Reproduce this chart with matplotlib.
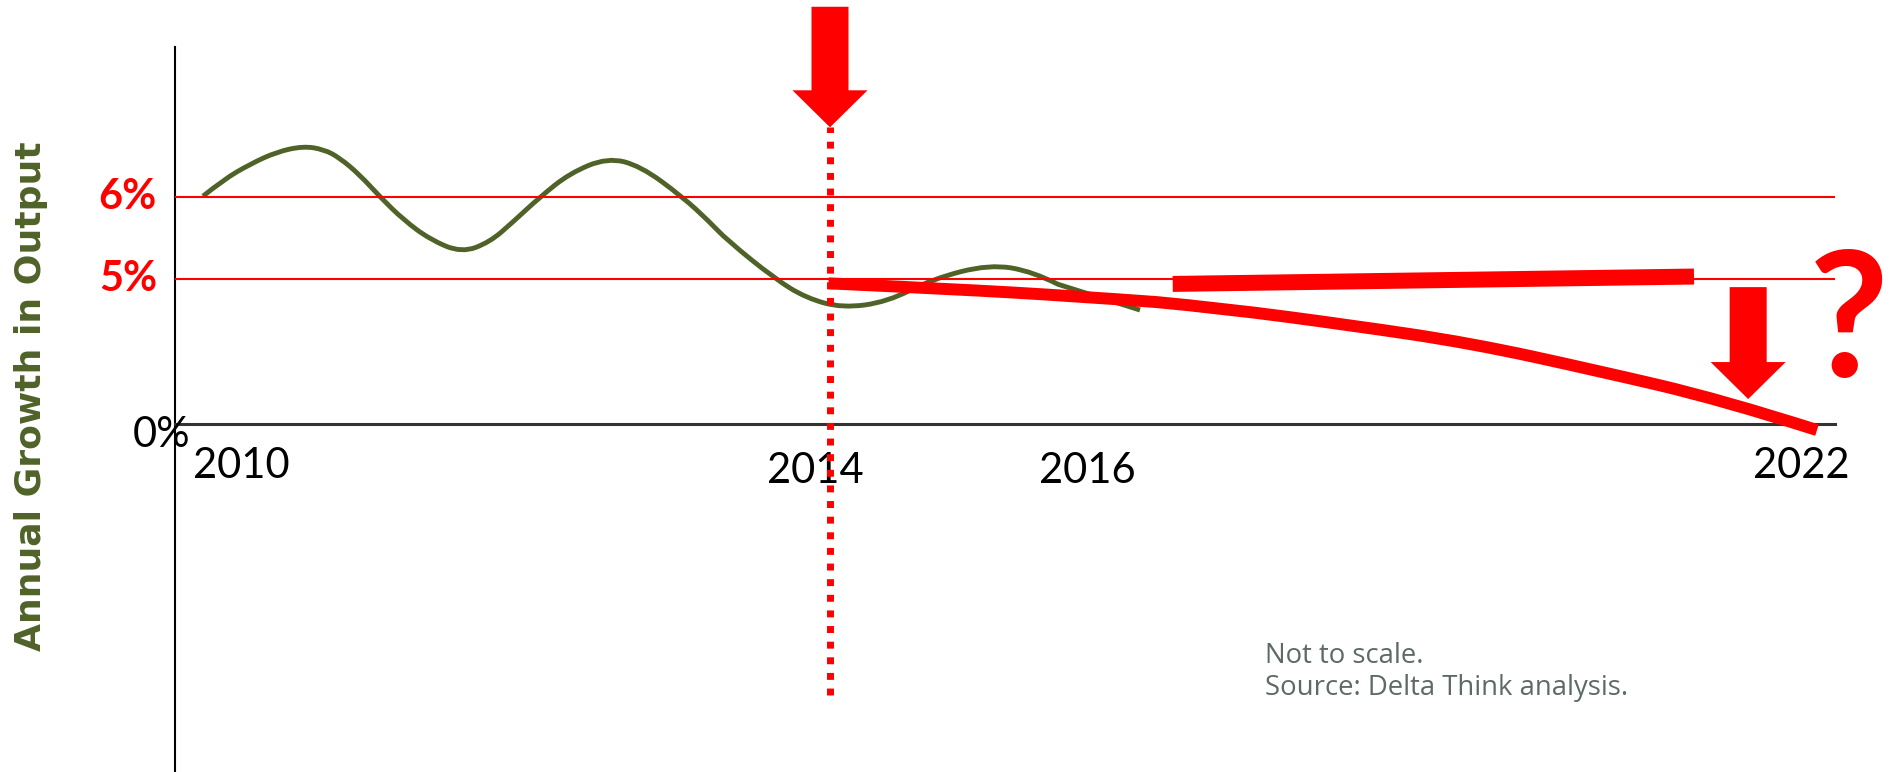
# Sketch: annual growth in output, 2010-2022 (not to scale)

import numpy as np
import matplotlib
matplotlib.use("Agg")
import matplotlib.pyplot as plt
from matplotlib.path import Path
from matplotlib.patches import PathPatch

# --- data (years, percent) ---
green_years = [2010.00, 2010.13, 2010.30, 2010.47, 2010.64, 2010.77, 2010.87, 2011.00,
               2011.13, 2011.28, 2011.45, 2011.65, 2011.83, 2011.98, 2012.15, 2012.34,
               2012.58, 2012.79, 2013.06, 2013.23, 2013.34, 2013.65, 2013.85, 2014.08,
               2014.37, 2014.66, 2015.03, 2015.31, 2015.63, 2016.00]
green_pct = [6.01, 6.21, 6.40, 6.55, 6.62, 6.58, 6.48, 6.27,
             6.00, 5.72, 5.48, 5.32, 5.45, 5.70, 6.00, 6.29,
             6.48, 6.38, 6.00, 5.70, 5.48, 5.00, 4.34, 4.00,
             4.21, 5.00, 5.18, 5.09, 4.55, 3.93]

decline_years = [2013.99, 2014.77, 2015.58, 2016.71, 2017.86, 2018.93, 2020.03, 2021.16, 2022.00]
decline_pct = [4.85, 4.66, 4.41, 4.00, 3.41, 2.79, 1.86, 0.83, -0.21]

flat_years = [2016.29, 2020.91]
flat_pct = [4.83, 5.03]

ref_levels = [6, 5]
ref_labels = ["6%", "5%"]
tick_years = [2010, 2014, 2016, 2022]
tick_labels = ["2010", "2014", "2016", "2022"]

event_year = 2014          # dotted marker
event_span = (-9.34, 6.85)
top_arrow = (8.32, 6.85)   # tail, tip (percent)
drop_arrow_year = 2021.39
drop_arrow = (4.72, 0.86)

RED = "#FF0000"
GREEN = "#4F6228"

# --- "not to scale" axes: piecewise linear mapping ---
yr_knots = [2000, 2010, 2014, 2016, 2022, 2030]
x_pix = [203 - 10 * 156.75, 203, 830, 1140, 1817, 1817 + 8 * 112.83]
pct_knots = [-30, 0, 5, 6, 20]
y_pix = [772 - (424 + 30 * 29), 772 - 424, 772 - 279, 772 - 197, 772 - (197 - 14 * 82)]

def fx(v): return np.interp(v, yr_knots, x_pix)
def ix(v): return np.interp(v, x_pix, yr_knots)
def fy(v): return np.interp(v, pct_knots, y_pix)
def iy(v): return np.interp(v, y_pix, pct_knots)


def smooth_path(xs, ys):
    # quadratic bezier through the midpoints, the read points act as control points
    pts = np.column_stack([xs, ys])
    verts = [pts[0]]
    codes = [Path.MOVETO]
    for i in range(1, len(pts) - 1):
        nxt = pts[i + 1] if i == len(pts) - 2 else (pts[i] + pts[i + 1]) / 2
        verts += [pts[i], nxt]
        codes += [Path.CURVE3, Path.CURVE3]
    return Path(verts, codes)


fig = plt.figure(figsize=(18.91, 7.72), dpi=100)
ax = fig.add_axes([175 / 1891, 0, 1660 / 1891, 725 / 772])
ax.set_xscale("function", functions=(fx, ix))
ax.set_yscale("function", functions=(fy, iy))
ax.set_xlim(ix(175), ix(1835))
ax.set_ylim(iy(0), iy(725))
ax.set_xticks([])
ax.set_yticks([])
ax.spines[["top", "right"]].set_visible(False)
ax.spines["left"].set_linewidth(1.5)
ax.spines["bottom"].set_position(("data", 0))
ax.spines["bottom"].set_color("#333333")
ax.spines["bottom"].set_linewidth(2.2)

for lv in ref_levels:
    ax.axhline(lv, color=RED, lw=1.5, zorder=3)

ax.add_patch(PathPatch(smooth_path(green_years, green_pct), fill=False, edgecolor=GREEN,
                       lw=3.5, capstyle="butt", joinstyle="round", zorder=2, clip_on=False))
ax.add_patch(PathPatch(smooth_path(decline_years, decline_pct), fill=False, edgecolor=RED,
                       lw=8.6, capstyle="butt", joinstyle="round", zorder=4, clip_on=False))
ax.plot(flat_years, flat_pct, color=RED, lw=11.5, solid_capstyle="butt", zorder=4)

ax.plot([event_year, event_year], event_span, color=RED, lw=5, linestyle=(0, (1, 1.25)),
        zorder=4, clip_on=False)

arrow_style = "simple,head_length=37,head_width=75,tail_width=37"
ax.annotate("", xy=(event_year, top_arrow[1]), xytext=(event_year, top_arrow[0]),
            arrowprops=dict(arrowstyle=arrow_style, mutation_scale=0.72, color=RED, lw=0,
                            shrinkA=0, shrinkB=0), annotation_clip=False, zorder=5)
ax.annotate("", xy=(drop_arrow_year, drop_arrow[1]), xytext=(drop_arrow_year, drop_arrow[0]),
            arrowprops=dict(arrowstyle=arrow_style, mutation_scale=0.72, color=RED, lw=0,
                            shrinkA=0, shrinkB=0), annotation_clip=False, zorder=5)

ax.text(2022.28, 1.62, "?", color=RED, fontsize=125, family="Lato", fontweight="bold",
        ha="center", va="baseline", clip_on=False)

# labels
lab = dict(fontsize=30, family="Lato", textcoords="offset pixels", annotation_clip=False)
offsets = {2010: (38, -54), 2014: (-15, -59), 2016: (-53, -59), 2022: (-16, -54)}
for yr, txt in zip(tick_years, tick_labels):
    ax.annotate(txt, xy=(yr, 0), xytext=offsets[yr], ha="center", va="baseline", **lab)

for lv, txt in zip(ref_levels, ref_labels):
    ax.annotate(txt, xy=(0, lv), xycoords=("axes fraction", "data"), xytext=(-18, -12),
                ha="right", va="baseline", color=RED, fontweight="bold", **lab)
ax.annotate("0%", xy=(0, 0), xycoords=("axes fraction", "data"), xytext=(15, -23),
            ha="right", va="baseline", **lab)

fig.text(31 / 1891, 1 - 396 / 772, "Annual Growth in Output", rotation=90, color=GREEN,
         fontsize=26, fontweight="bold", family="DejaVu Sans", ha="center", va="center")

note_kw = dict(fontsize=19.8, family="Open Sans", color="#5E6A66", va="baseline", ha="left")
fig.text(1265 / 1891, 1 - 663 / 772, "Not to scale.", **note_kw)
fig.text(1265 / 1891, 1 - 695 / 772, "Source: Delta Think analysis.", **note_kw)

fig.savefig("out.png", dpi=100)
